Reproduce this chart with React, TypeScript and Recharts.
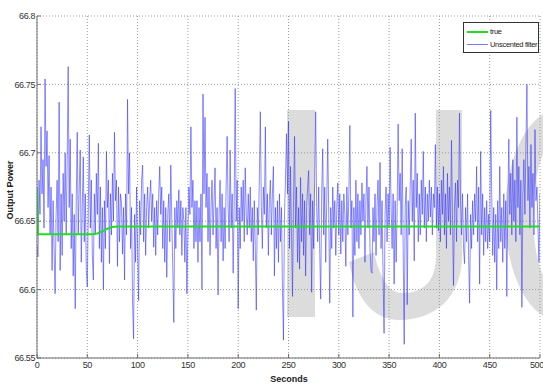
import React from 'react';
import { LineChart, Line, XAxis, YAxis, CartesianGrid, Legend } from 'recharts';

// Unscented filter estimate, one sample per second (0..500 s),
// read off the plot as offsets from 66.65 in units of 0.001
const filterOffsets = [
  -18, -26, 30, 5, 69, 20, 45, -5, 104, 40,
  66, 10, 48, -10, 25, -36, 15, -20, -53, 5,
  30, -15, 87, -36, 20, -25, 35, 0, 50, -10,
  45, 113, 10, 60, -20, 20, -40, 5, -64, 15,
  65, -10, 25, 52, -30, 10, 47, -15, 20, -35,
  -48, 10, 63, -5, 30, -25, -43, 20, -10, 35,
  5, 57, -20, 25, -30, 10, -50, 15, -20, 51,
  10, 30, -31, 20, -10, 35, 0, 65, 15, 30,
  -33, 25, -15, 20, 13, -24, 10, -43, 20, -10,
  89, 20, 50, -20, 10, -60, -86, 5, -30, 25,
  -20, -58, 15, -10, 30, 41, -15, 20, -25, 10,
  25, -5, 15, 30, 0, 20, -19, 10, -25, 15,
  -10, 20, 40, 5, 25, -20, 15, -30, 10, -41,
  5, 20, -15, 41, 0, -35, -74, 10, -20, 15,
  -5, 23, -10, 15, -25, 10, 0, -30, 10, -53,
  -10, 25, 5, 69, 10, 30, -20, 15, -15, 15,
  -30, 10, -15, 20, -50, 93, 20, 76, 10, 35,
  -15, 25, -25, 10, 30, -10, 15, 39, -20, 10,
  -54, 5, 30, -15, 20, -29, 10, -20, 25, 62,
  10, -15, 52, -5, 20, -38, 15, 97, 0, 30,
  -64, 10, -20, 25, 0, 30, -15, 39, 5, -10,
  20, -5, 25, -15, 10, -29, 15, -20, -65, 10,
  -10, 30, 80, 10, -20, 25, 5, 69, -5, 20,
  -25, 15, 30, -10, 20, 40, -40, 10, -20, 15,
  -30, 20, -15, 10, -50, -87, 5, 30, 64, 20,
  73, -20, 40, -10, -55, 15, 62, -5, 25, -30,
  10, -35, 32, -15, 20, -25, 15, -40, 10, 25,
  37, -10, 20, -52, 15, -20, 30, 80, 10, -15,
  25, -20, -57, 20, 53, -10, 25, -30, 15, 60,
  5, -60, 10, -20, 25, -5, 15, -25, 10, 28,
  -10, 20, -24, 15, -15, 20, 5, -33, 25, -10,
  20, 70, -5, 15, -70, 10, -25, 30, -15, 20,
  -20, 15, -10, 28, 0, 20, -30, 15, 40, -5,
  25, -20, -36, -38, 10, -15, 20, -25, 10, 30,
  -10, 43, -20, 15, -40, -82, 5, 25, -15, 20,
  -5, 54, 10, -20, 20, -46, 15, -30, 10, 71,
  15, 35, -10, 53, -20, -90, 10, 25, -61, 15,
  -10, 25, 60, 0, 30, -29, 79, 10, 35, -15,
  20, -10, 30, 5, 51, -5, 25, -15, 20, 0,
  30, 3, 25, -10, 20, 10, 56, -5, 25, -7,
  20, -15, 30, 5, 40, -10, 20, -20, 35, 0,
  25, -10, 59, 5, -47, 10, 28, -15, 30, 10,
  79, 15, -10, 20, -20, -31, 10, -15, 20, -25,
  -60, 5, -20, 15, -10, 20, 0, 40, -15, 25,
  -46, 51, -10, 20, -25, 10, -15, 15, -20, 5,
  -15, 81, 20, -25, 10, -30, 5, -50, 15, -20,
  40, -15, 10, -30, 20, -20, 15, -55, 10, 60,
  5, 35, -10, 45, 0, 30, -15, 76, 10, 40,
  -10, 30, -63, 20, 45, 5, 55, 100, 15, 40,
  -5, 56, 10, 35, -10, 67, 15, 25, -5, -30, 20,
];
const filterBase = 66.65;

// true output power, breakpoints
const trueSeconds = [0, 1, 55, 60, 65, 70, 75, 80, 500];
const trueValues = [66.675, 66.6405, 66.6405, 66.641, 66.6425, 66.6445, 66.6458, 66.6462, 66.6462];

const xTicks = [0, 50, 100, 150, 200, 250, 300, 350, 400, 450, 500];
const yTicks = [66.55, 66.6, 66.65, 66.7, 66.75, 66.8];

const filterRows = filterOffsets.map((d, i) => ({ t: i, value: +(filterBase + d / 1000).toFixed(4) }));
const trueRows = trueSeconds.map((t, i) => ({ t, value: trueValues[i] }));

const font = "'Liberation Sans', Arial, sans-serif";
const axisGray = '#6e6e6e';
const tickStyle = { fontSize: 9, fill: '#333', fontFamily: font, letterSpacing: -0.4 };

const renderLegend = () => (
  <div
    style={{
      width: 76,
      height: 31,
      border: '1px solid #333',
      background: '#fff',
      fontFamily: font,
      fontSize: 7.5,
      letterSpacing: -0.3,
      whiteSpace: 'nowrap',
      color: '#222',
      boxSizing: 'border-box',
      padding: '2px 0 0 3px',
      lineHeight: '13px',
    }}
  >
    <div style={{ display: 'flex', alignItems: 'center' }}>
      <span style={{ display: 'inline-block', width: 21, height: 2, background: '#22dd22', marginRight: 2 }} />
      true
    </div>
    <div style={{ display: 'flex', alignItems: 'center' }}>
      <span style={{ display: 'inline-block', width: 21, height: 1, background: '#7777ff', marginRight: 2 }} />
      Unscented filter
    </div>
  </div>
);

const YTitle = () => (
  <text
    x={13}
    y={190}
    transform="rotate(-90 13 190)"
    textAnchor="middle"
    fontFamily={font}
    fontWeight="bold"
    fontSize={9}
    fill="#222"
  >
    Output Power
  </text>
);

const XTitle = () => (
  <text x={289} y={382} textAnchor="middle" fontFamily={font} fontWeight="bold" fontSize={9} fill="#222">
    Seconds
  </text>
);

// gray "IJC" watermark behind the plot
const Watermark = () => (
  <svg width={543} height={385} style={{ position: 'absolute', left: 0, top: 0 }}>
    <g fill="#dcdcdc">
      <rect x={287} y={110} width={28} height={207} />
      <path d="M436,110 L462,110 L462,255 C462,300 432,320 400,320 C374,320 356,300 349,262 L374,252 C380,280 390,293 402,293 C425,293 436,280 436,255 Z" />
      <path
        fillRule="evenodd"
        d="M505,215 A55,106 0 1,0 615,215 A55,106 0 1,0 505,215 Z M533,215 A27,78 0 1,0 587,215 A27,78 0 1,0 533,215 Z"
      />
    </g>
  </svg>
);

export default function App() {
  return (
    <div style={{ position: 'absolute', left: 0, top: 0, width: 543, height: 385, background: '#fff' }}>
      <Watermark />
      <LineChart width={543} height={385} margin={{ top: 16, right: 3, bottom: 0, left: 0 }}>
        <CartesianGrid stroke="#9a9a9a" strokeDasharray="1 2" />
        <XAxis
          dataKey="t"
          type="number"
          domain={[0, 500]}
          ticks={xTicks}
          allowDataOverflow
          height={27}
          tickSize={-4}
          tickMargin={8}
          axisLine={{ stroke: axisGray }}
          tickLine={{ stroke: axisGray }}
          tick={tickStyle}
          label={<XTitle />}
        />
        <XAxis
          xAxisId="top"
          orientation="top"
          type="number"
          domain={[0, 500]}
          ticks={xTicks}
          height={0}
          tickSize={-4}
          tick={false}
          axisLine={{ stroke: axisGray }}
          tickLine={{ stroke: axisGray }}
        />
        <YAxis
          type="number"
          domain={[66.55, 66.8]}
          ticks={yTicks}
          allowDataOverflow
          width={37}
          tickSize={-4}
          tickMargin={6}
          axisLine={{ stroke: axisGray }}
          tickLine={{ stroke: axisGray }}
          tick={tickStyle}
          label={<YTitle />}
        />
        <YAxis
          yAxisId="right"
          orientation="right"
          type="number"
          domain={[66.55, 66.8]}
          ticks={yTicks}
          width={0}
          tickSize={-4}
          tick={false}
          axisLine={{ stroke: axisGray }}
          tickLine={{ stroke: axisGray }}
        />
        <Legend
          layout="vertical"
          align="center"
          verticalAlign="middle"
          content={renderLegend}
          wrapperStyle={{ left: 463, top: 22, width: 76, height: 31 }}
        />
        <Line
          data={filterRows}
          dataKey="value"
          name="Unscented filter"
          stroke="#3030ff"
          strokeOpacity={0.55}
          strokeWidth={1}
          dot={false}
          isAnimationActive={false}
        />
        <Line
          data={trueRows}
          dataKey="value"
          name="true"
          stroke="#22dd22"
          strokeWidth={2}
          dot={false}
          isAnimationActive={false}
        />
      </LineChart>
    </div>
  );
}
